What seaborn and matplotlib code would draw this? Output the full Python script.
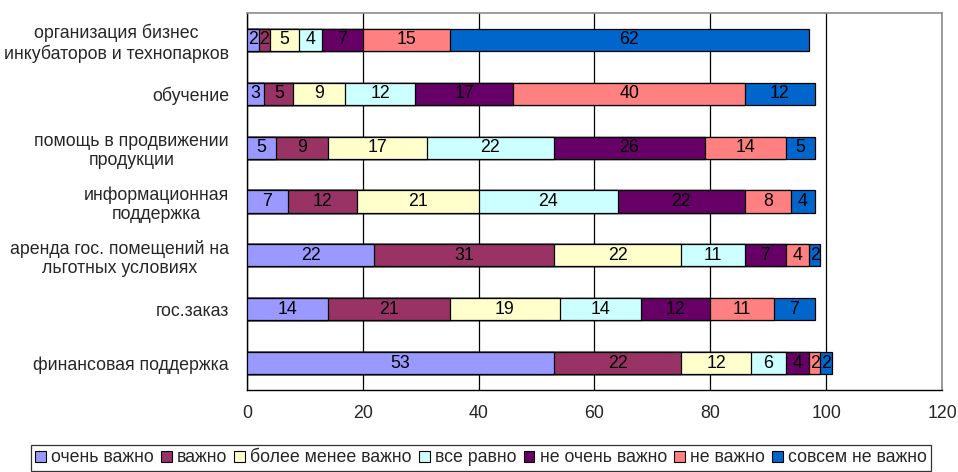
import numpy as np
import pandas as pd
import seaborn as sns
import matplotlib.pyplot as plt
from matplotlib.patches import Patch

sns.set_style("white")
plt.rcParams['font.family'] = ['Liberation Sans', 'DejaVu Sans']

categories = [
    "организация бизнес\nинкубаторов и технопарков",
    "обучение",
    "помощь в продвижении\nпродукции",
    "информационная\nподдержка",
    "аренда гос. помещений на\nльготных условиях",
    "гос.заказ",
    "финансовая поддержка",
]
series_names = ["очень важно", "важно", "более менее важно", "все равно",
                "не очень важно", "не важно", "совсем не важно"]
very_important = [2, 3, 5, 7, 22, 14, 53]
important = [2, 5, 9, 12, 31, 21, 22]
more_or_less = [5, 9, 17, 21, 22, 19, 12]
indifferent = [4, 12, 22, 24, 11, 14, 6]
not_very = [7, 17, 26, 22, 7, 12, 4]
not_important = [15, 40, 14, 8, 4, 11, 2]
not_at_all = [62, 12, 5, 4, 2, 7, 2]
x_ticks = [0, 20, 40, 60, 80, 100, 120]

colors = ["#9999FF", "#993366", "#FFFFCC", "#CCFFFF", "#660066", "#FF8080", "#0066CC"]
FS = 12.8

values = np.array([very_important, important, more_or_less, indifferent,
                   not_very, not_important, not_at_all], dtype=float)
cum = np.cumsum(values, axis=0)

fig = plt.figure(figsize=(9.58, 4.72), dpi=100)
ax = fig.add_axes([0.2578, 0.1737, 0.9833 - 0.2578, 0.9725 - 0.1737])

# stacked bars: draw cumulative totals from the outermost layer inward
for i in range(len(series_names) - 1, -1, -1):
    df = pd.DataFrame({"cat": categories, "val": cum[i]})
    sns.barplot(data=df, x="val", y="cat", orient="h", color=colors[i],
                saturation=1, width=0.41, edgecolor="black", linewidth=0.9,
                ax=ax, zorder=3)

# value labels centred in each segment
for i in range(len(series_names)):
    for j in range(len(categories)):
        start = cum[i, j] - values[i, j]
        ax.text(start + values[i, j] / 2, j, f"{int(values[i, j])}",
                ha="center", va="center", fontsize=FS, color="black", zorder=4)

ax.set_xlim(0, 120)
ax.set_ylim(len(categories) - 0.5, -0.5)
ax.set_xticks(x_ticks)
ax.set_xticklabels([str(t) for t in x_ticks], fontsize=FS)
ax.set_xlabel("")
ax.set_ylabel("")
ax.tick_params(axis="y", which="major", length=0, labelsize=FS, pad=13)
ax.set_yticks(np.arange(-0.5, len(categories), 1), minor=True)
ax.tick_params(axis="y", which="minor", length=5, width=1, color="black", direction="out")
ax.tick_params(axis="x", length=5, width=1, color="black", direction="out", pad=6)
for lbl in ax.get_yticklabels():
    lbl.set_multialignment("center")

ax.grid(axis="x", color="black", linewidth=0.9, zorder=0)
ax.grid(axis="y", visible=False)
ax.set_axisbelow(True)
for side in ["left", "bottom"]:
    ax.spines[side].set_color("black")
    ax.spines[side].set_linewidth(1)
for side in ["top", "right"]:
    ax.spines[side].set_color("#8C8C8C")
    ax.spines[side].set_linewidth(1.2)

handles = [Patch(facecolor=c, edgecolor="black", linewidth=0.8) for c in colors]
leg = fig.legend(handles, series_names, loc="center", bbox_to_anchor=(0.502, 0.0297),
                 ncol=7, fontsize=FS, frameon=True, fancybox=False,
                 handlelength=0.6, handleheight=0.6, handletextpad=0.3,
                 columnspacing=0.4, borderpad=0.25, edgecolor="black")
leg.get_frame().set_linewidth(0.9)

fig.savefig("out.png", dpi=100)
